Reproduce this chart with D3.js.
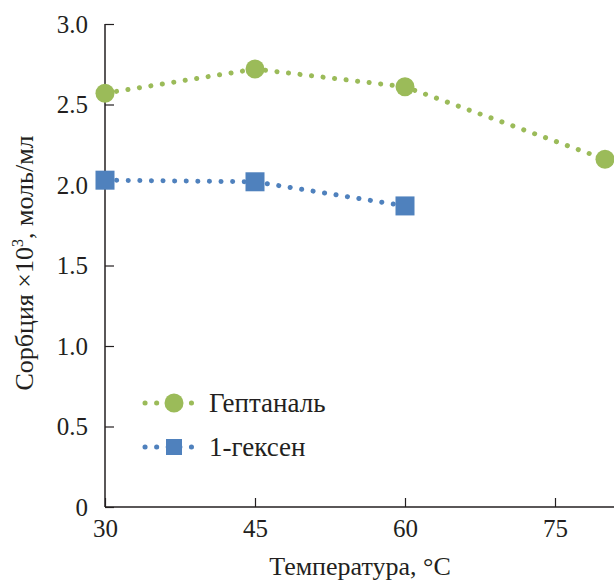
<!DOCTYPE html>
<html>
<head>
<meta charset="utf-8">
<script src="https://cdn.jsdelivr.net/npm/d3@7"></script>
<style>
  @font-face { font-family: "ChartSerif"; src: local("Liberation Serif"), local("LiberationSerif"), local("LiberationSerif-Regular"), local("Times New Roman"); }
</style>
</head>
<body style="margin:0">
<div id="chart"></div>
<script>
const w = 614;
const h = 583;

// data
const temps = [30, 45, 60, 80];
const heptanal = [2.57, 2.72, 2.61, 2.16];
const temps2 = [30, 45, 60];
const hexene = [2.03, 2.02, 1.87];
const xTicks = [30, 45, 60, 75];
const yTicks = [0, 0.5, 1.0, 1.5, 2.0, 2.5, 3.0];
const seriesNames = ['Гептаналь', '1-гексен'];
const colors = ['#9bbb59', '#4f81bd'];
const ink = '#231f20';
const fam = d => '"Liberation Serif"';

const svg = d3.select('#chart')
    .append('svg')
    .attr('width', w)
    .attr('height', h);

const xScale = d3.scaleLinear().domain([30, 80]).range([105, 605]);
const yScale = d3.scaleLinear().domain([0, 3]).range([507, 24]);

// axes
const xAxis = d3.axisBottom(xScale).tickValues(xTicks).tickSize(0).tickPadding(12)
    .tickFormat(d3.format('d'));
const yAxis = d3.axisLeft(yScale).tickValues(yTicks).tickSize(0).tickPadding(17)
    .tickFormat(d => d === 0 ? '0' : d3.format('.1f')(d));

const gx = svg.append('g').attr('transform', 'translate(0,' + yScale(0) + ')').call(xAxis)
    .attr('font-family', null).attr('font-size', null);
gx.select('.domain').remove();
gx.append('line').attr('x1', xScale(30)).attr('x2', w).attr('stroke', ink).attr('stroke-width', 1.5);
gx.selectAll('.tick').append('line').attr('y2', -9).attr('stroke', ink).attr('stroke-width', 1.2);
gx.selectAll('text').style('font-family', fam).style('font-size', '25px').attr('fill', ink);

const gy = svg.append('g').attr('transform', 'translate(' + xScale(30) + ',0)').call(yAxis)
    .attr('font-family', null).attr('font-size', null);
gy.select('.domain').remove();
gy.append('line').attr('y1', yScale(3)).attr('y2', yScale(0)).attr('stroke', ink).attr('stroke-width', 1.5);
gy.selectAll('.tick').append('line').attr('x2', 9).attr('stroke', ink).attr('stroke-width', 1.2);
gy.selectAll('text').style('font-family', fam).style('font-size', '25px').attr('fill', ink);

// axis titles
svg.append('text')
    .attr('x', 360).attr('y', 575)
    .attr('text-anchor', 'middle')
    .attr('fill', ink)
    .style('font-family', fam)
    .style('font-size', '26px')
    .text('Температура, °C');

const yt = svg.append('text')
    .attr('transform', 'translate(33,263) rotate(-90)')
    .attr('text-anchor', 'middle')
    .attr('fill', ink)
    .style('font-family', fam)
    .style('font-size', '26px');
yt.append('tspan').text('Сорбция ×10');
yt.append('tspan').attr('dy', -10).style('font-size', '16px').text('3');
yt.append('tspan').attr('dy', 10).text(', моль/мл');

// series
const line = d3.line().x(d => xScale(d[0])).y(d => yScale(d[1]));
const dotted = (sel, color) => sel
    .attr('fill', 'none')
    .attr('stroke', color)
    .attr('stroke-width', 5)
    .attr('stroke-linecap', 'round')
    .attr('stroke-dasharray', '0.1 11.5');

const hepData = temps.map((t, i) => [t, heptanal[i]]);
const hexData = temps2.map((t, i) => [t, hexene[i]]);

svg.append('path').datum(hepData).attr('d', line).call(dotted, colors[0]);
svg.append('path').datum(hexData).attr('d', line).call(dotted, colors[1]);

svg.selectAll('.hep').data(hepData).enter().append('circle')
    .attr('cx', d => xScale(d[0])).attr('cy', d => yScale(d[1]))
    .attr('r', 9.5).attr('fill', colors[0]);

svg.selectAll('.hex').data(hexData).enter().append('rect')
    .attr('x', d => xScale(d[0]) - 9.5).attr('y', d => yScale(d[1]) - 9.5)
    .attr('width', 19).attr('height', 19).attr('fill', colors[1]);

// legend
const legend = svg.append('g');
[403, 447].forEach((y, i) => {
    legend.append('path').attr('d', 'M145,' + y + 'H199').call(dotted, colors[i]);
    if (i === 0) {
        legend.append('circle').attr('cx', 174).attr('cy', y).attr('r', 9.5).attr('fill', colors[i]);
    } else {
        legend.append('rect').attr('x', 166).attr('y', y - 8).attr('width', 16).attr('height', 16).attr('fill', colors[i]);
    }
    legend.append('text').attr('x', 209).attr('y', y + 9).attr('fill', ink)
        .style('font-family', fam).style('font-size', '27px').text(seriesNames[i]);
});
</script>
</body>
</html>
